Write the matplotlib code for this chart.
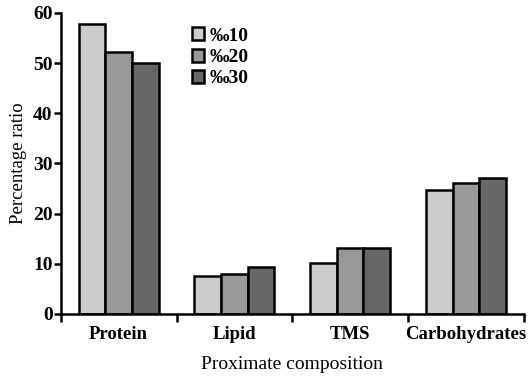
import matplotlib
matplotlib.use("Agg")
import matplotlib.pyplot as plt
import numpy as np

# dados
categorias = ['Protein', 'Lipid', 'TMS', 'Carbohydrates']
series = ['‰10', '‰20', '‰30']
val_10 = [57.8, 7.6, 10.1, 24.7]
val_20 = [52.2, 8.0, 13.1, 26.2]
val_30 = [50.0, 9.3, 13.1, 27.0]
cores = ['#cccccc', '#999999', '#676767']

plt.rcParams['font.family'] = ['Liberation Serif', 'DejaVu Serif']

fig = plt.figure(figsize=(5.29, 3.81), dpi=100)
ax = fig.add_axes([0.115, 0.176, 0.875, 0.79])

x = np.arange(len(categorias))
larg = 0.23
for i, (vals, cor, nome) in enumerate(zip([val_10, val_20, val_30], cores, series)):
    ax.bar(x + (i - 1) * larg, vals, larg, color=cor, edgecolor='black',
           linewidth=1.8, label=nome)

ax.set_xlim(-0.5, 3.5)
ax.set_ylim(0, 60)
ax.set_yticks([0, 10, 20, 30, 40, 50, 60])
ax.set_xticks(x)
ax.set_xticklabels(categorias, fontweight='bold', fontsize=13.5)
ax.set_xticks(np.arange(-0.5, 4, 1), minor=True)
ax.tick_params(axis='x', which='major', length=0, pad=9)
ax.tick_params(axis='x', which='minor', length=6, width=1.8, direction='out')
ax.tick_params(axis='y', length=5, width=1.8, labelsize=14, pad=1)
for lab in ax.get_yticklabels():
    lab.set_fontweight('bold')

for lado in ['top', 'right']:
    ax.spines[lado].set_visible(False)
for lado in ['left', 'bottom']:
    ax.spines[lado].set_linewidth(1.8)

ax.set_ylabel('Percentage ratio', fontsize=13.5, labelpad=4)
ax.set_xlabel('Proximate composition', fontsize=14, labelpad=9)

ax.legend(loc='upper left', bbox_to_anchor=(0.245, 1.01), frameon=False,
          handlelength=0.65, handleheight=0.65, handletextpad=0.25,
          labelspacing=0.2, prop={'weight': 'bold', 'size': 14})

fig.savefig('out.png', dpi=100)
